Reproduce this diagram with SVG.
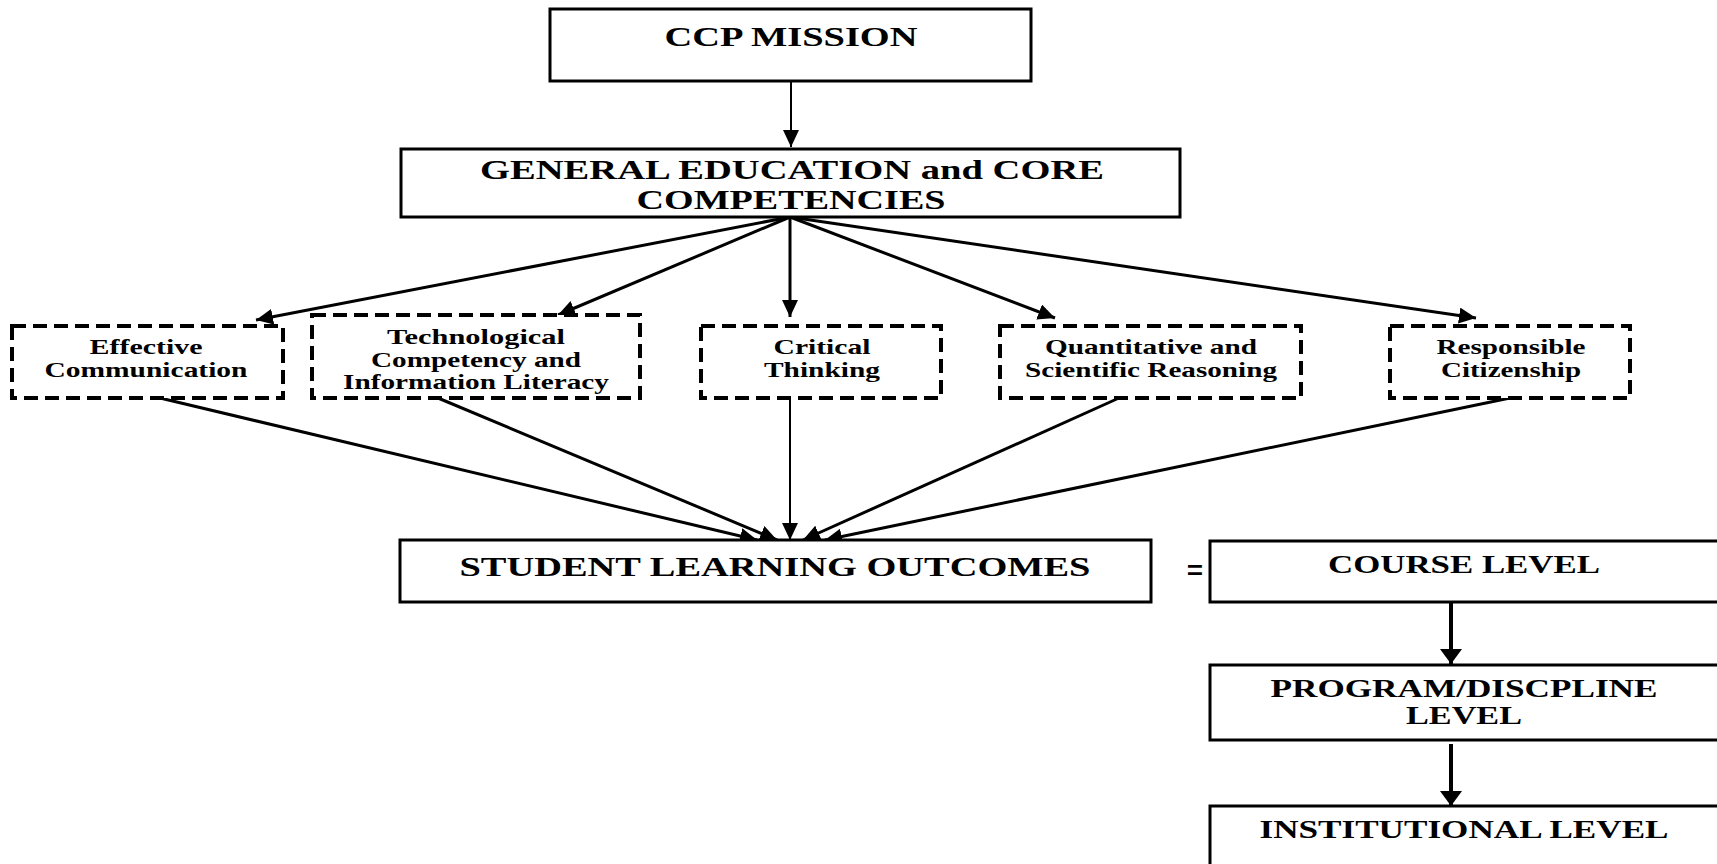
<svg xmlns="http://www.w3.org/2000/svg" width="1717" height="864" viewBox="0 0 1717 864">
<style>
  .box{fill:#fff;stroke:#000;stroke-width:3}
  .dash{fill:#fff;stroke:#000;stroke-width:4;stroke-dasharray:14 7}
  .t{font-family:"Liberation Serif","Times New Roman",serif;font-weight:bold;fill:#000;text-anchor:middle}
  .big{font-size:28px}
  .mid{font-size:25px}
  .sm{font-size:21px}
  .con{stroke:#000;fill:none}
</style>
<defs>
  <marker id="ah" markerUnits="userSpaceOnUse" markerWidth="18" markerHeight="16" refX="17" refY="8" orient="auto">
    <path d="M0,0 L17,8 L0,16 z" fill="#000"/>
  </marker>
  <marker id="ahB" markerUnits="userSpaceOnUse" markerWidth="16" markerHeight="22" refX="15" refY="11" orient="auto">
    <path d="M0,0 L15,11 L0,22 z" fill="#000"/>
  </marker>
</defs>
<rect width="1717" height="864" fill="#fff"/>

<g id="connectors">
  <line class="con" x1="791" y1="81" x2="791" y2="147" stroke-width="2" marker-end="url(#ah)"/>
  <line class="con" x1="790" y1="217" x2="256" y2="320" stroke-width="3" marker-end="url(#ah)"/>
  <line class="con" x1="790" y1="217" x2="558" y2="315" stroke-width="3" marker-end="url(#ah)"/>
  <line class="con" x1="790" y1="217" x2="790" y2="317" stroke-width="3" marker-end="url(#ah)"/>
  <line class="con" x1="790" y1="217" x2="1055" y2="318" stroke-width="3" marker-end="url(#ah)"/>
  <line class="con" x1="790" y1="217" x2="1476" y2="318" stroke-width="3" marker-end="url(#ah)"/>
  <line class="con" x1="160" y1="398" x2="757" y2="540" stroke-width="3" marker-end="url(#ah)"/>
  <line class="con" x1="438" y1="398" x2="777" y2="540" stroke-width="3" marker-end="url(#ah)"/>
  <line class="con" x1="790" y1="398" x2="790" y2="540" stroke-width="2" marker-end="url(#ah)"/>
  <line class="con" x1="1119" y1="398" x2="803" y2="540" stroke-width="3" marker-end="url(#ah)"/>
  <line class="con" x1="1510" y1="398" x2="825" y2="540" stroke-width="3" marker-end="url(#ah)"/>
  <line class="con" x1="1451" y1="602" x2="1451" y2="664" stroke-width="4" marker-end="url(#ahB)"/>
  <line class="con" x1="1451" y1="744" x2="1451" y2="806" stroke-width="4" marker-end="url(#ahB)"/>
</g>

<g id="ccp-mission">
  <rect class="box" x="550" y="9" width="481" height="72"/>
  <text class="t big" x="791" y="46" textLength="253" lengthAdjust="spacingAndGlyphs">CCP MISSION</text>
</g>

<g id="gen-ed">
  <rect class="box" x="401" y="149" width="779" height="68" stroke-width="3.5"/>
  <text class="t big" x="792" y="179" textLength="624" lengthAdjust="spacingAndGlyphs">GENERAL EDUCATION and CORE</text>
  <text class="t big" x="791" y="209" textLength="309" lengthAdjust="spacingAndGlyphs">COMPETENCIES</text>
</g>

<g id="effective-communication">
  <rect class="dash" x="12" y="326" width="271" height="72"/>
  <text class="t sm" x="146" y="354" textLength="113" lengthAdjust="spacingAndGlyphs">Effective</text>
  <text class="t sm" x="146" y="377" textLength="203" lengthAdjust="spacingAndGlyphs">Communication</text>
</g>

<g id="technological">
  <rect class="dash" x="312" y="315" width="328" height="83"/>
  <text class="t sm" x="476" y="344" textLength="178" lengthAdjust="spacingAndGlyphs">Technological</text>
  <text class="t sm" x="476" y="367" textLength="210" lengthAdjust="spacingAndGlyphs">Competency and</text>
  <text class="t sm" x="476" y="389" textLength="266" lengthAdjust="spacingAndGlyphs">Information Literacy</text>
</g>

<g id="critical-thinking">
  <rect class="dash" x="701" y="326" width="240" height="72"/>
  <text class="t sm" x="822" y="354" textLength="97" lengthAdjust="spacingAndGlyphs">Critical</text>
  <text class="t sm" x="822" y="377" textLength="116" lengthAdjust="spacingAndGlyphs">Thinking</text>
</g>

<g id="quantitative">
  <rect class="dash" x="1000" y="326" width="301" height="72"/>
  <text class="t sm" x="1151" y="354" textLength="212" lengthAdjust="spacingAndGlyphs">Quantitative and</text>
  <text class="t sm" x="1151" y="377" textLength="252" lengthAdjust="spacingAndGlyphs">Scientific Reasoning</text>
</g>

<g id="responsible-citizenship">
  <rect class="dash" x="1390" y="326" width="240" height="72"/>
  <text class="t sm" x="1511" y="354" textLength="149" lengthAdjust="spacingAndGlyphs">Responsible</text>
  <text class="t sm" x="1511" y="377" textLength="140" lengthAdjust="spacingAndGlyphs">Citizenship</text>
</g>

<g id="slo">
  <rect class="box" x="400" y="540" width="751" height="62"/>
  <text class="t big" x="775" y="576" textLength="631" lengthAdjust="spacingAndGlyphs">STUDENT LEARNING OUTCOMES</text>
</g>

<g id="equals">
  <text class="t" x="1195" y="583" font-size="38" textLength="17" lengthAdjust="spacingAndGlyphs">=</text>
</g>

<g id="course-level">
  <rect class="box" x="1210" y="541" width="530" height="61"/>
  <text class="t mid" x="1464" y="573" textLength="272" lengthAdjust="spacingAndGlyphs">COURSE LEVEL</text>
</g>

<g id="program-level">
  <rect class="box" x="1210" y="665" width="530" height="75"/>
  <text class="t mid" x="1464" y="697" textLength="387" lengthAdjust="spacingAndGlyphs">PROGRAM/DISCPLINE</text>
  <text class="t mid" x="1464" y="724" textLength="116" lengthAdjust="spacingAndGlyphs">LEVEL</text>
</g>

<g id="institutional-level">
  <rect class="box" x="1210" y="806" width="530" height="80"/>
  <text class="t mid" x="1464" y="838" textLength="409" lengthAdjust="spacingAndGlyphs">INSTITUTIONAL LEVEL</text>
</g>
</svg>
